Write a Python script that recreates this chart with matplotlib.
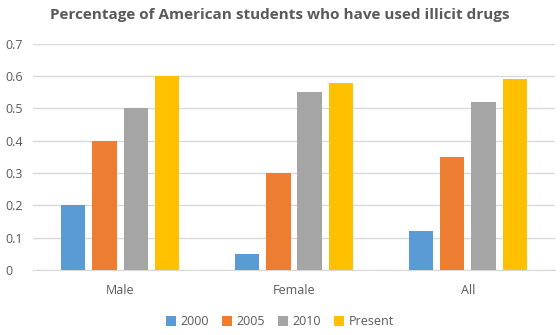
import matplotlib
matplotlib.use("Agg")
import matplotlib.pyplot as plt
import numpy as np

categories = ["Male", "Female", "All"]
series = ["2000", "2005", "2010", "Present"]
v2000 = [0.20, 0.05, 0.12]
v2005 = [0.40, 0.30, 0.35]
v2010 = [0.50, 0.55, 0.52]
vpresent = [0.60, 0.58, 0.59]
colors = ["#5B9BD5", "#ED7D31", "#A5A5A5", "#FFC000"]

plt.rcParams['font.family'] = ['Open Sans', 'DejaVu Sans']
txt = "#595959"

fig = plt.figure(figsize=(5.6, 3.35), dpi=100)
ax = fig.add_axes([0.059, 0.194, 0.932, 0.675])

x = np.arange(len(categories))
w = 0.14
pitch = 0.18
for i, (vals, name) in enumerate(zip([v2000, v2005, v2010, vpresent], series)):
    ax.bar(x + (i - 1.5) * pitch, vals, width=w, color=colors[i], label=name, zorder=3)

ax.set_xlim(-0.5, 2.5)
ax.set_ylim(0, 0.7)
ax.set_yticks(np.arange(0, 0.71, 0.1))
ax.set_yticklabels(["0", "0.1", "0.2", "0.3", "0.4", "0.5", "0.6", "0.7"])
ax.set_xticks(x)
ax.set_xticklabels(categories)
ax.grid(axis="y", color="#D9D9D9", linewidth=1, zorder=0)
for s in ["top", "right", "left"]:
    ax.spines[s].set_visible(False)
ax.spines["bottom"].set_color("#D9D9D9")
ax.tick_params(axis="both", length=0, colors=txt, labelsize=9)
ax.tick_params(axis="x", pad=10)
for lbl in ax.get_yticklabels():
    lbl.set_horizontalalignment("left")
ax.yaxis.set_tick_params(pad=20)

fig.text(0.5, 0.955, "Percentage of American students who have used illicit drugs",
         ha="center", va="center", fontsize=11, fontweight="bold", color=txt)

leg = fig.legend(loc="center", bbox_to_anchor=(0.5, 0.04), ncol=4, frameon=False,
                 fontsize=9, handlelength=0.8, handleheight=0.8, handletextpad=0.4,
                 columnspacing=1.0)
for t in leg.get_texts():
    t.set_color(txt)

fig.savefig("out.png", dpi=100)
